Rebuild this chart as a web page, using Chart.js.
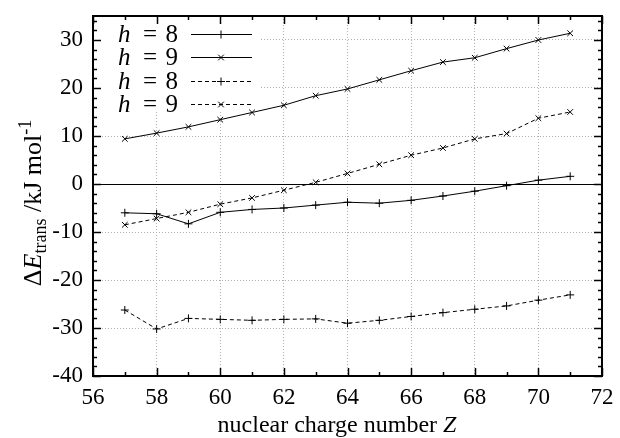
<!DOCTYPE html>
<html>
<head>
<meta charset="utf-8">
<script src="https://cdn.jsdelivr.net/npm/chart.js@4.4.1/dist/chart.umd.min.js"></script>
<style>
  html, body { margin: 0; padding: 0; background: #fff; }
  #wrap { width: 620px; height: 438px; }
</style>
</head>
<body>
<div id="wrap"><canvas id="myChart" width="620" height="438"></canvas></div>
<script>
// nuclear charge number Z
const zValues = [57, 58, 59, 60, 61, 62, 63, 64, 65, 66, 67, 68, 69, 70, 71];

// solid lines
const h8Solid = [-6.0, -6.2, -8.3, -5.9, -5.3, -5.0, -4.4, -3.8, -4.0, -3.4, -2.5, -1.5, -0.35, 0.8, 1.6];
const h9Solid = [9.4, 10.6, 11.9, 13.4, 14.9, 16.4, 18.4, 19.8, 21.7, 23.6, 25.4, 26.3, 28.2, 30.0, 31.4];

// dashed lines
const h8Dashed = [-26.25, -30.2, -28.0, -28.2, -28.4, -28.2, -28.1, -29.0, -28.4, -27.6, -26.8, -26.1, -25.4, -24.2, -23.1];
const h9Dashed = [-8.5, -7.2, -5.9, -4.2, -2.9, -1.3, 0.35, 2.2, 4.1, 6.0, 7.5, 9.4, 10.5, 13.7, 15.0];

const legendValues = [8, 9, 8, 9];

const serif = '"Liberation Serif", "DejaVu Serif", serif';

function toPoints(ys) {
    return zValues.map((z, i) => ({ x: z, y: ys[i] }));
}

function makeSet(label, ys, style, dashed) {
    return {
        label: label,
        data: toPoints(ys),
        borderColor: '#000',
        backgroundColor: '#000',
        borderWidth: 1,
        borderDash: dashed ? [4, 3] : [],
        pointStyle: style,
        pointRadius: 4,
        pointBorderWidth: 1,
        pointBorderColor: '#000',
        tension: 0,
        fill: false
    };
}

// frame, inward ticks, zero line, legend and axis titles
const gnuplotLook = {
    id: 'gnuplotLook',
    beforeDatasetsDraw(chart) {
        const ctx = chart.ctx;
        const a = chart.chartArea;
        const y0 = chart.scales.y.getPixelForValue(0);
        ctx.save();
        ctx.strokeStyle = '#000';
        ctx.lineWidth = 1;
        ctx.beginPath();
        ctx.moveTo(a.left, Math.round(y0) + 0.5);
        ctx.lineTo(a.right, Math.round(y0) + 0.5);
        ctx.stroke();

        // legend box (opaque, under the lines)
        ctx.fillStyle = '#fff';
        ctx.fillRect(a.left + 1, a.top + 1, 166, 95);
        ctx.restore();
    },
    afterDraw(chart) {
        const ctx = chart.ctx;
        const a = chart.chartArea;
        const xs = chart.scales.x;
        const ys = chart.scales.y;
        ctx.save();

        const sets = chart.data.datasets;
        const rowY = [34, 57, 81, 104];
        sets.forEach((ds, i) => {
            const y = rowY[i];
            ctx.fillStyle = '#000';
            ctx.textBaseline = 'middle';
            ctx.font = 'italic 25px ' + serif;
            ctx.textAlign = 'left';
            ctx.fillText('h', 118, y + 1);
            ctx.font = '25px ' + serif;
            ctx.textAlign = 'center';
            ctx.fillText('=', 150, y + 1);
            ctx.textAlign = 'right';
            ctx.fillText(String(legendValues[i]), 178, y + 1);

            ctx.strokeStyle = '#000';
            ctx.lineWidth = 1;
            ctx.setLineDash(ds.borderDash);
            ctx.beginPath();
            ctx.moveTo(191, y + 0.5);
            ctx.lineTo(252, y + 0.5);
            ctx.stroke();
            ctx.setLineDash([]);
            Chart.helpers.drawPoint(ctx, {
                pointStyle: ds.pointStyle, radius: 4, rotation: 0, borderWidth: 1
            }, 221, y + 0.5);
        });

        // inward ticks
        ctx.strokeStyle = '#000';
        ctx.lineWidth = 1.5;
        ctx.setLineDash([]);
        ctx.beginPath();
        for (let v = xs.min; v <= xs.max + 1e-9; v += 1) {
            const px = Math.round(xs.getPixelForValue(v)) + 0.5;
            const len = (v % 2 === 0) ? 8 : 4;
            ctx.moveTo(px, a.bottom); ctx.lineTo(px, a.bottom - len);
            ctx.moveTo(px, a.top); ctx.lineTo(px, a.top + len);
        }
        for (let v = ys.min; v <= ys.max + 1e-9; v += 2) {
            const py = Math.round(ys.getPixelForValue(v)) + 0.5;
            const len = (v % 10 === 0) ? 8 : 4;
            ctx.moveTo(a.left, py); ctx.lineTo(a.left + len, py);
            ctx.moveTo(a.right, py); ctx.lineTo(a.right - len, py);
        }
        ctx.stroke();

        // frame
        ctx.lineWidth = 2;
        ctx.strokeRect(a.left, a.top, a.right - a.left, a.bottom - a.top);

        // x title
        ctx.fillStyle = '#000';
        ctx.textBaseline = 'alphabetic';
        const t1 = 'nuclear charge number ';
        ctx.font = 'italic 24px ' + serif;
        const wz = ctx.measureText('Z').width;
        ctx.font = '24px ' + serif;
        const w1 = ctx.measureText(t1).width;
        let sx = 337 - (w1 + wz) / 2;
        ctx.textAlign = 'left';
        ctx.fillText(t1, sx, 432);
        ctx.font = 'italic 24px ' + serif;
        ctx.fillText('Z', sx + w1, 432);

        // y title (rotated)
        ctx.translate(41, 203);
        ctx.rotate(-Math.PI / 2);
        const parts = [
            { t: '\u0394', f: '26px ', dy: 0 },
            { t: 'E', f: 'italic 26px ', dy: 0 },
            { t: 'trans', f: '18px ', dy: 5 },
            { t: ' /kJ mol', f: '26px ', dy: 0 },
            { t: '-1', f: '18px ', dy: -10 }
        ];
        let total = 0;
        parts.forEach(p => { ctx.font = p.f + serif; p.w = ctx.measureText(p.t).width; total += p.w; });
        let cx = -total / 2;
        parts.forEach(p => {
            ctx.font = p.f + serif;
            ctx.fillText(p.t, cx, p.dy);
            cx += p.w;
        });
        ctx.restore();
    }
};

const data = {
    datasets: [
        makeSet('h = 8', h8Solid, 'cross', false),
        makeSet('h = 9', h9Solid, 'crossRot', false),
        makeSet('h = 8', h8Dashed, 'cross', true),
        makeSet('h = 9', h9Dashed, 'crossRot', true)
    ]
};

const config = {
    type: 'line',
    data: data,
    options: {
        responsive: false,
        animation: false,
        devicePixelRatio: 1,
        layout: { padding: { left: 0, top: 16, right: 18, bottom: 0 } },
        scales: {
            x: {
                type: 'linear',
                min: 56,
                max: 72,
                ticks: {
                    stepSize: 2,
                    color: '#000',
                    padding: 8,
                    maxRotation: 0,
                    font: { family: serif, size: 23 }
                },
                grid: {
                    color: '#b0b0b0',
                    lineWidth: 1,
                    drawTicks: false
                },
                border: { display: false, dash: [1, 2] },
                afterFit: (scale) => {
                    scale.height = 62;
                    scale.paddingLeft = 0;
                    scale.paddingRight = 0;
                }
            },
            y: {
                type: 'linear',
                min: -40,
                max: 35,
                ticks: {
                    stepSize: 10,
                    includeBounds: false,
                    color: '#000',
                    padding: 10,
                    font: { family: serif, size: 23 }
                },
                grid: {
                    color: '#b0b0b0',
                    lineWidth: 1,
                    drawTicks: false
                },
                border: { display: false, dash: [1, 2] },
                afterFit: (scale) => {
                    scale.width = 93;
                    scale.paddingTop = 0;
                    scale.paddingBottom = 0;
                }
            }
        },
        plugins: {
            legend: { display: false },
            tooltip: { enabled: false }
        }
    },
    plugins: [gnuplotLook]
};

const myChart = new Chart(document.getElementById('myChart'), config);
</script>
</body>
</html>
